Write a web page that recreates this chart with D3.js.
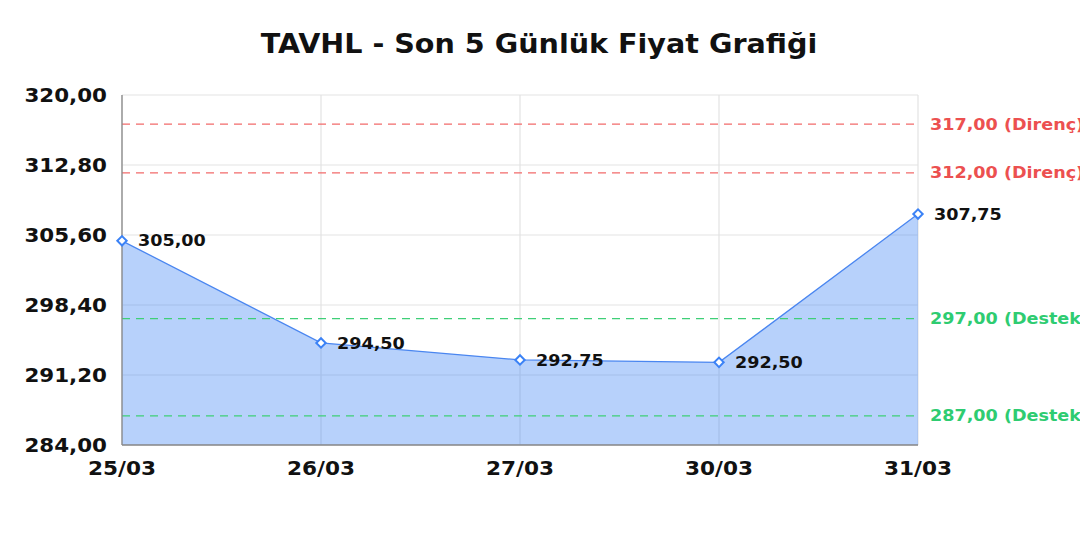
<!DOCTYPE html>
<html><head><meta charset="utf-8">
<script src="https://cdn.jsdelivr.net/npm/d3@7"></script>
<style>
html,body{margin:0;padding:0;background:#fff;overflow:hidden;}
text{font-family:"DejaVu Sans",sans-serif;font-weight:bold;}
</style></head>
<body>
<svg id="c" width="1080" height="540"></svg>
<script>
const title = "TAVHL - Son 5 Günlük Fiyat Grafiği";
const categories = ["25/03","26/03","27/03","30/03","31/03"];
const prices = [305.00, 294.50, 292.75, 292.50, 307.75];
const yTicks = [284.0, 291.2, 298.4, 305.6, 312.8, 320.0];
const resistanceLevels = [317.00, 312.00];
const supportLevels = [297.00, 287.00];
const yDomain = [284, 320];

const fmt = v => v.toFixed(2).replace(".", ",");
const svg = d3.select("#c");
const pL = 122, pR = 918, pT = 95, pB = 445;
const SX = 1.1;

const x = d3.scalePoint().domain(categories).range([pL, pR]);
const y = d3.scaleLinear().domain(yDomain).range([pB, pT]);

// title
svg.append("text").attr("transform", `translate(539,53) scale(${SX},1)`).attr("text-anchor","middle")
  .attr("font-size", 26).attr("fill","#111").text(title);

// grid
const g = svg.append("g");
g.selectAll("line.h").data(yTicks).join("line")
  .attr("x1", pL).attr("x2", pR).attr("y1", d=>y(d)).attr("y2", d=>y(d))
  .attr("stroke","#e3e3e3").attr("stroke-width",1.2);
g.selectAll("line.v").data(categories).join("line")
  .attr("x1", d=>x(d)).attr("x2", d=>x(d)).attr("y1", pT).attr("y2", pB)
  .attr("stroke","#e3e3e3").attr("stroke-width",1.2);

// area
const data = categories.map((c,i)=>({c, v:prices[i]}));
svg.append("path").datum(data)
  .attr("d", d3.area().x(d=>x(d.c)).y0(y(yDomain[0])).y1(d=>y(d.v)))
  .attr("fill","rgba(66,133,244,0.38)");
svg.append("path").datum(data)
  .attr("d", d3.line().x(d=>x(d.c)).y(d=>y(d.v)))
  .attr("fill","none").attr("stroke","#4a86f0").attr("stroke-width",1.3);

// reference lines
function refs(levels, lineColor, textColor, label){
  svg.append("g").selectAll("line").data(levels).join("line")
    .attr("x1", pL).attr("x2", pR).attr("y1", d=>y(d)).attr("y2", d=>y(d))
    .attr("stroke", lineColor).attr("stroke-width",1.3).attr("stroke-dasharray","8,6");
  svg.append("g").selectAll("text").data(levels).join("text")
    .attr("transform", d=>`translate(930,${y(d)}) scale(${SX},1)`).attr("dy","0.35em")
    .attr("font-size",16).attr("fill",textColor)
    .text(d=>fmt(d)+" ("+label+")");
}
refs(resistanceLevels, "#f26b6b", "#ec5050", "Direnç");
refs(supportLevels, "#3fcf77", "#2ecc71", "Destek");

// axes lines
svg.append("line").attr("x1",pL).attr("x2",pL).attr("y1",pT).attr("y2",pB)
  .attr("stroke","#888").attr("stroke-width",1.3);
svg.append("line").attr("x1",pL).attr("x2",pR).attr("y1",pB).attr("y2",pB)
  .attr("stroke","#888").attr("stroke-width",1.3);

// y tick labels
svg.append("g").selectAll("text").data(yTicks).join("text")
  .attr("transform", d=>`translate(107,${y(d)}) scale(1.07,1)`).attr("dy","0.35em").attr("text-anchor","end")
  .attr("font-size",20).attr("fill","#111").text(d=>fmt(d));
// x tick labels
svg.append("g").selectAll("text").data(categories).join("text")
  .attr("transform", d=>`translate(${x(d)},${pB+30}) scale(1.08,1)`).attr("text-anchor","middle")
  .attr("font-size",20).attr("fill","#111").text(d=>d);

// markers
svg.append("g").selectAll("path").data(data).join("path")
  .attr("d", d3.symbol().type(d3.symbolSquare).size(44)())
  .attr("transform", d=>`translate(${x(d.c)},${y(d.v)}) rotate(45)`)
  .attr("fill","#fff").attr("stroke","#3b82f6").attr("stroke-width",2);

// data labels
svg.append("g").selectAll("text").data(data).join("text")
  .attr("transform", d=>`translate(${x(d.c)+16},${y(d.v)}) scale(${SX},1)`).attr("dy","0.35em")
  .attr("font-size",16).attr("fill","#111").text(d=>fmt(d.v));
</script>
</body></html>
